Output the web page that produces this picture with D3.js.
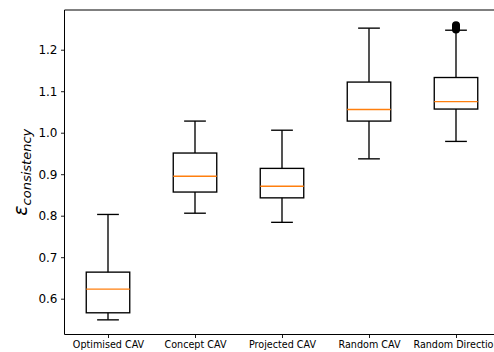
<!DOCTYPE html>
<html>
<head>
<meta charset="utf-8">
<script src="https://cdn.jsdelivr.net/npm/d3@7"></script>
<style>
  html, body { margin: 0; padding: 0; background: #fff; overflow: hidden; }
  svg { display: block; font-family: "DejaVu Sans", sans-serif; }
</style>
</head>
<body>
<svg id="chart" width="494" height="352"></svg>
<script>
// Box-plot summaries per method
const categories = ["Optimised CAV", "Concept CAV", "Projected CAV", "Random CAV", "Random Direction"];
const whiskerLow = [0.549, 0.806, 0.784, 0.937, 0.979];
const q1 = [0.566, 0.857, 0.843, 1.028, 1.057];
const median = [0.623, 0.895, 0.871, 1.056, 1.075];
const q3 = [0.664, 0.951, 0.914, 1.122, 1.133];
const whiskerHigh = [0.803, 1.028, 1.006, 1.252, 1.247];
const outliers = [[], [], [], [], [1.249, 1.253, 1.256, 1.259]];
const yTicks = [0.6, 0.7, 0.8, 0.9, 1.0, 1.1, 1.2];

const svg = d3.select("#chart");

const plotLeft = 64.5, plotTop = 10, plotBottom = 334.5;
const x = d3.scaleLinear().domain([0.5, 5.5]).range([plotLeft, plotLeft + 5 * 87]);
const y = d3.scaleLinear().domain([0.5137, 1.2957]).range([plotBottom, plotTop]);

const boxW = x(1.25) - x(1);     // half box width in px (box = 0.5 units)
const capW = x(1.125) - x(1);    // half cap width (cap = 0.25 units)

const data = categories.map((c, i) => ({
  c, pos: i + 1, lo: whiskerLow[i], q1: q1[i], med: median[i], q3: q3[i], hi: whiskerHigh[i], out: outliers[i]
}));

const g = svg.append("g");
const lw = 1.35;

data.forEach(d => {
  const cx = x(d.pos);
  // whiskers
  g.append("line").attr("x1", cx).attr("x2", cx).attr("y1", y(d.q1)).attr("y2", y(d.lo))
    .attr("stroke", "#000").attr("stroke-width", lw);
  g.append("line").attr("x1", cx).attr("x2", cx).attr("y1", y(d.q3)).attr("y2", y(d.hi))
    .attr("stroke", "#000").attr("stroke-width", lw);
  // caps
  [d.lo, d.hi].forEach(v => {
    g.append("line").attr("x1", cx - capW).attr("x2", cx + capW).attr("y1", y(v)).attr("y2", y(v))
      .attr("stroke", "#000").attr("stroke-width", lw);
  });
  // box
  g.append("rect").attr("x", cx - boxW).attr("y", y(d.q3))
    .attr("width", 2 * boxW).attr("height", y(d.q1) - y(d.q3))
    .attr("fill", "none").attr("stroke", "#000").attr("stroke-width", lw);
  // median
  g.append("line").attr("x1", cx - boxW).attr("x2", cx + boxW).attr("y1", y(d.med)).attr("y2", y(d.med))
    .attr("stroke", "#ff7f0e").attr("stroke-width", lw);
  // fliers
  g.selectAll(null).data(d.out).enter().append("circle")
    .attr("cx", cx).attr("cy", v => y(v)).attr("r", 4).attr("fill", "#000");
});

// Spines
svg.append("line").attr("x1", plotLeft).attr("x2", 500).attr("y1", plotTop).attr("y2", plotTop)
  .attr("stroke", "#000").attr("stroke-width", 1);
svg.append("line").attr("x1", plotLeft).attr("x2", plotLeft).attr("y1", plotTop).attr("y2", plotBottom)
  .attr("stroke", "#000").attr("stroke-width", 1);
svg.append("line").attr("x1", plotLeft).attr("x2", 500).attr("y1", plotBottom).attr("y2", plotBottom)
  .attr("stroke", "#000").attr("stroke-width", 1);

// Y axis
const yAxis = d3.axisLeft(y).tickValues(yTicks).tickFormat(d3.format(".1f")).tickSize(3.5).tickPadding(3.5);
const ya = svg.append("g").attr("transform", `translate(${plotLeft},0)`).call(yAxis);
ya.select(".domain").remove();
ya.selectAll("text").attr("font-size", 12).attr("fill", "#000").attr("font-family", "DejaVu Sans");
ya.selectAll("line").attr("stroke", "#000").attr("stroke-width", 0.9);

// X axis
const xAxis = d3.axisBottom(x).tickValues([1, 2, 3, 4, 5]).tickFormat((d) => categories[d - 1]).tickSize(3.5).tickPadding(3.5);
const xa = svg.append("g").attr("transform", `translate(0,${plotBottom})`).call(xAxis);
xa.select(".domain").remove();
xa.selectAll("text").attr("font-size", 9.6).attr("fill", "#000").attr("font-family", "DejaVu Sans");
xa.selectAll("line").attr("stroke", "#000").attr("stroke-width", 0.9);

// Y label: epsilon with italic subscript
const ylab = svg.append("text")
  .attr("transform", `translate(27,${(plotTop + plotBottom) / 2}) rotate(-90)`)
  .attr("text-anchor", "middle")
  .attr("font-family", "DejaVu Sans")
  .attr("font-style", "italic")
  .attr("fill", "#000");
ylab.append("tspan").attr("font-size", 19).text("ε");
ylab.append("tspan").attr("font-size", 13).attr("dy", 3.5).text("consistency");
</script>
</body>
</html>
